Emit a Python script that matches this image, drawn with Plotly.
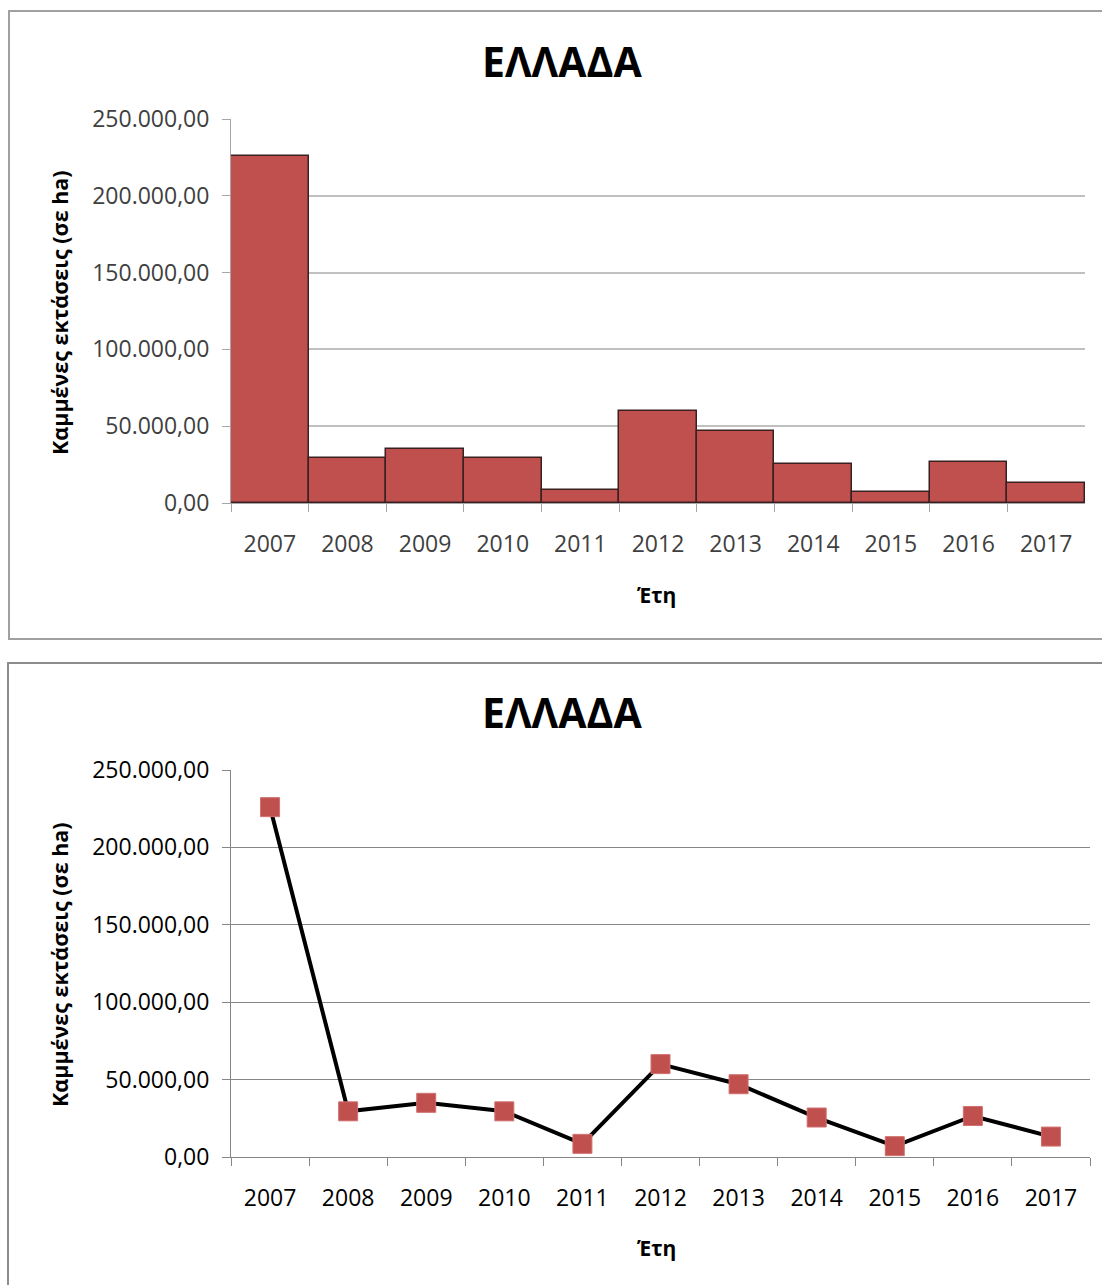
import plotly.graph_objects as go

# Burned area in Greece per year (hectares)
years = ["2007", "2008", "2009", "2010", "2011", "2012",
         "2013", "2014", "2015", "2016", "2017"]
burned_ha = [226000, 29500, 35000, 29500, 8500, 60000,
             47000, 25500, 7000, 26500, 13200]

chart_title = "ΕΛΛΑΔΑ"
y_title = "Καμμένες εκτάσεις (σε ha)"
x_title = "Έτη"
y_ticks = [0, 50000, 100000, 150000, 200000, 250000]

BAR_RED = "#C0504D"
FONT = "Open Sans"
W, H = 1102, 1285


def px_x(p):
    return p / W


def px_y(p):
    return 1 - p / H


fig = go.Figure()

# Top panel: bar chart with touching bars
fig.add_trace(go.Bar(
    x=years, y=burned_ha, xaxis="x", yaxis="y",
    marker=dict(color=BAR_RED, line=dict(color="#3a2020", width=1.5)),
    showlegend=False, hoverinfo="x+y",
))

# Bottom panel: line chart with square markers
fig.add_trace(go.Scatter(
    x=years, y=burned_ha, xaxis="x2", yaxis="y2", mode="lines+markers",
    line=dict(color="#000000", width=4),
    marker=dict(symbol="square", size=19, color=BAR_RED,
                line=dict(color="#D07070", width=1)),
    showlegend=False, hoverinfo="x+y",
))

common_x = dict(
    type="category", range=[-0.5, 10.5], tickson="boundaries",
    ticks="outside", ticklen=8, tickwidth=1,
    showgrid=False, showline=True, linewidth=1,
    ticklabelstandoff=20, fixedrange=True,
)
common_y = dict(
    range=[0, 250000], tickvals=y_ticks, tickformat=",.2f",
    ticks="outside", ticklen=8, tickwidth=1,
    showline=True, linewidth=1, zeroline=False,
    ticklabelstandoff=8, fixedrange=True,
)

fig.update_layout(
    width=W, height=H,
    margin=dict(l=0, r=0, t=0, b=0, autoexpand=False),
    paper_bgcolor="white", plot_bgcolor="white",
    separators=",.",
    bargap=0,
    font=dict(family=FONT, size=22, color="#000000"),
    xaxis=dict(
        common_x, anchor="y",
        domain=[px_x(231), px_x(1085)],
        linecolor="#A6A6A6", tickcolor="#A6A6A6",
        tickfont=dict(family=FONT, size=23, color="#404040"),
    ),
    yaxis=dict(
        common_y, anchor="x",
        domain=[px_y(503), px_y(119)],
        linecolor="#A6A6A6", tickcolor="#A6A6A6",
        gridcolor="#C0C0C0", gridwidth=2,
        tickfont=dict(family=FONT, size=23, color="#404040"),
    ),
    xaxis2=dict(
        common_x, anchor="y2",
        domain=[px_x(231), px_x(1090)],
        linecolor="#868686", tickcolor="#868686",
        tickfont=dict(family=FONT, size=23, color="#000000"),
    ),
    yaxis2=dict(
        common_y, anchor="x2",
        domain=[px_y(1157), px_y(770)],
        linecolor="#868686", tickcolor="#868686",
        gridcolor="#868686", gridwidth=1,
        tickfont=dict(family=FONT, size=23, color="#000000"),
    ),
)

# Chart frames (right / bottom edges run off the page)
fig.add_shape(type="path", xref="paper", yref="paper",
              path=f"M 1,{px_y(639)} L {px_x(9)},{px_y(639)} "
                   f"L {px_x(9)},{px_y(11)} L 1,{px_y(11)}",
              line=dict(color="#A0A0A0", width=2))
fig.add_shape(type="path", xref="paper", yref="paper",
              path=f"M {px_x(8)},0 L {px_x(8)},{px_y(663)} L 1,{px_y(663)}",
              line=dict(color="#8C8C8C", width=2))

# Titles for both panels
for title_y, ytitle_y, xtitle_y in [(61, 313, 595), (712, 965, 1248)]:
    fig.add_annotation(text=f"<b>{chart_title}</b>", xref="paper", yref="paper",
                       x=px_x(562), y=px_y(title_y), showarrow=False,
                       xanchor="center", yanchor="middle",
                       font=dict(family=FONT, size=41, color="#000000"))
    fig.add_annotation(text=f"<b>{y_title}</b>", xref="paper", yref="paper",
                       x=px_x(59), y=px_y(ytitle_y), showarrow=False,
                       textangle=-90, xanchor="center", yanchor="middle",
                       font=dict(family=FONT, size=21.5, color="#000000"))
    fig.add_annotation(text=f"<b>{x_title}</b>", xref="paper", yref="paper",
                       x=px_x(656), y=px_y(xtitle_y), showarrow=False,
                       xanchor="center", yanchor="middle",
                       font=dict(family=FONT, size=21, color="#000000"))

fig.write_html("out.html")
